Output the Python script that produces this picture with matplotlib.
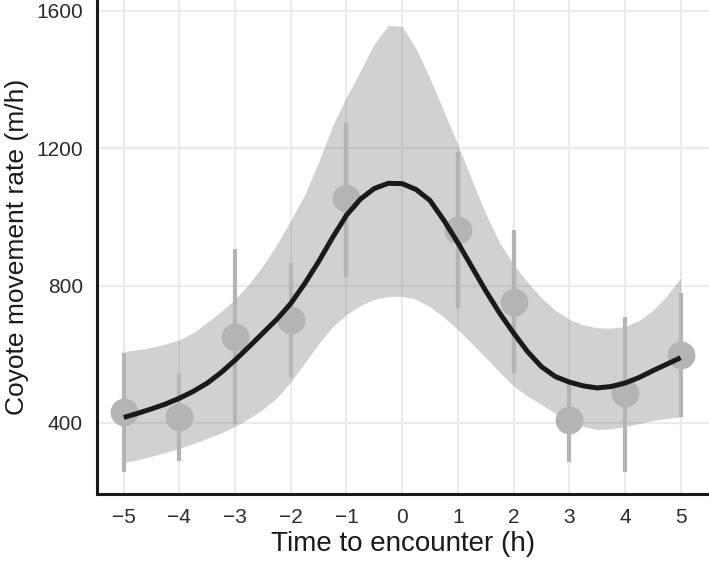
import numpy as np
import matplotlib.pyplot as plt

# observed means with error bars
t_obs = [-5, -4, -3, -2, -1, 1, 2, 3, 4, 5]
rate_obs = [432, 417, 650, 700, 1055, 962, 753, 409, 487, 598]
rate_lo = [257, 289, 397, 534, 826, 734, 545, 286, 257, 418]
rate_hi = [604, 543, 907, 866, 1273, 1190, 962, 525, 710, 778]

t_fit = np.arange(-5, 5.01, 0.25)
fit = [416, 428, 441, 455, 472, 492, 516, 547, 583, 622, 662, 702, 748, 806,
       870, 940, 1005, 1052, 1083, 1098, 1097, 1080, 1048, 990, 925, 855,
       785, 720, 662, 608, 564, 535, 519, 508, 502, 506, 516, 532, 552, 571, 590]
fit_hi = [608, 613, 620, 630, 642, 663, 693, 725, 760, 805, 858, 920, 990,
          1065, 1160, 1265, 1350, 1425, 1505, 1558, 1555, 1490, 1403, 1308,
          1210, 1108, 1010, 925, 862, 810, 765, 728, 702, 686, 677, 676, 681,
          698, 728, 770, 822]
fit_lo = [284, 293, 303, 314, 326, 340, 355, 371, 390, 413, 440, 473, 520,
          575, 630, 680, 716, 742, 760, 769, 769, 760, 738, 708, 672, 632,
          590, 548, 508, 478, 454, 428, 405, 390, 381, 383, 389, 398, 407,
          413, 418]

plt.rcParams['font.family'] = ['Liberation Sans', 'DejaVu Sans']

fig = plt.figure(figsize=(7.09, 5.62), dpi=100)
ax = fig.add_axes([97/709, 68/562, 612/709, 494/562])

ax.fill_between(t_fit, fit_lo, fit_hi, color='#66686c', alpha=0.3, lw=0, zorder=2)
ax.vlines(t_obs, rate_lo, rate_hi, color='#b3b4b6', lw=3, zorder=3)
ax.plot(t_obs, rate_obs, 'o', color='#b3b4b6', ms=20, mec='none', zorder=3)
ax.plot(t_fit, fit, color='#1a1a1a', lw=3.6, solid_capstyle='butt',
        solid_joinstyle='round', zorder=4)

ax.set_xlim(-5.48, 5.51)
ax.set_ylim(193, 1632)
ax.set_xticks(range(-5, 6))
ax.set_xticklabels(['\u2212%d' % -v if v < 0 else str(v) for v in range(-5, 6)])
ax.set_yticks([400, 800, 1200, 1600])
ax.grid(True, color='#ebebeb', lw=1.5, zorder=0)
ax.set_axisbelow(True)

for s in ['top', 'right']:
    ax.spines[s].set_visible(False)
for s in ['left', 'bottom']:
    ax.spines[s].set_linewidth(2.2)
    ax.spines[s].set_color('#1a1a1a')

ax.tick_params(length=0, labelsize=15, pad=10, labelcolor='#2b2b2b')
ax.set_xlabel('Time to encounter (h)', fontsize=20, color='#1a1a1a', labelpad=3)
ax.set_ylabel('Coyote movement rate (m/h)', fontsize=19, color='#1a1a1a', labelpad=5)

plt.savefig('out.png', dpi=100)
